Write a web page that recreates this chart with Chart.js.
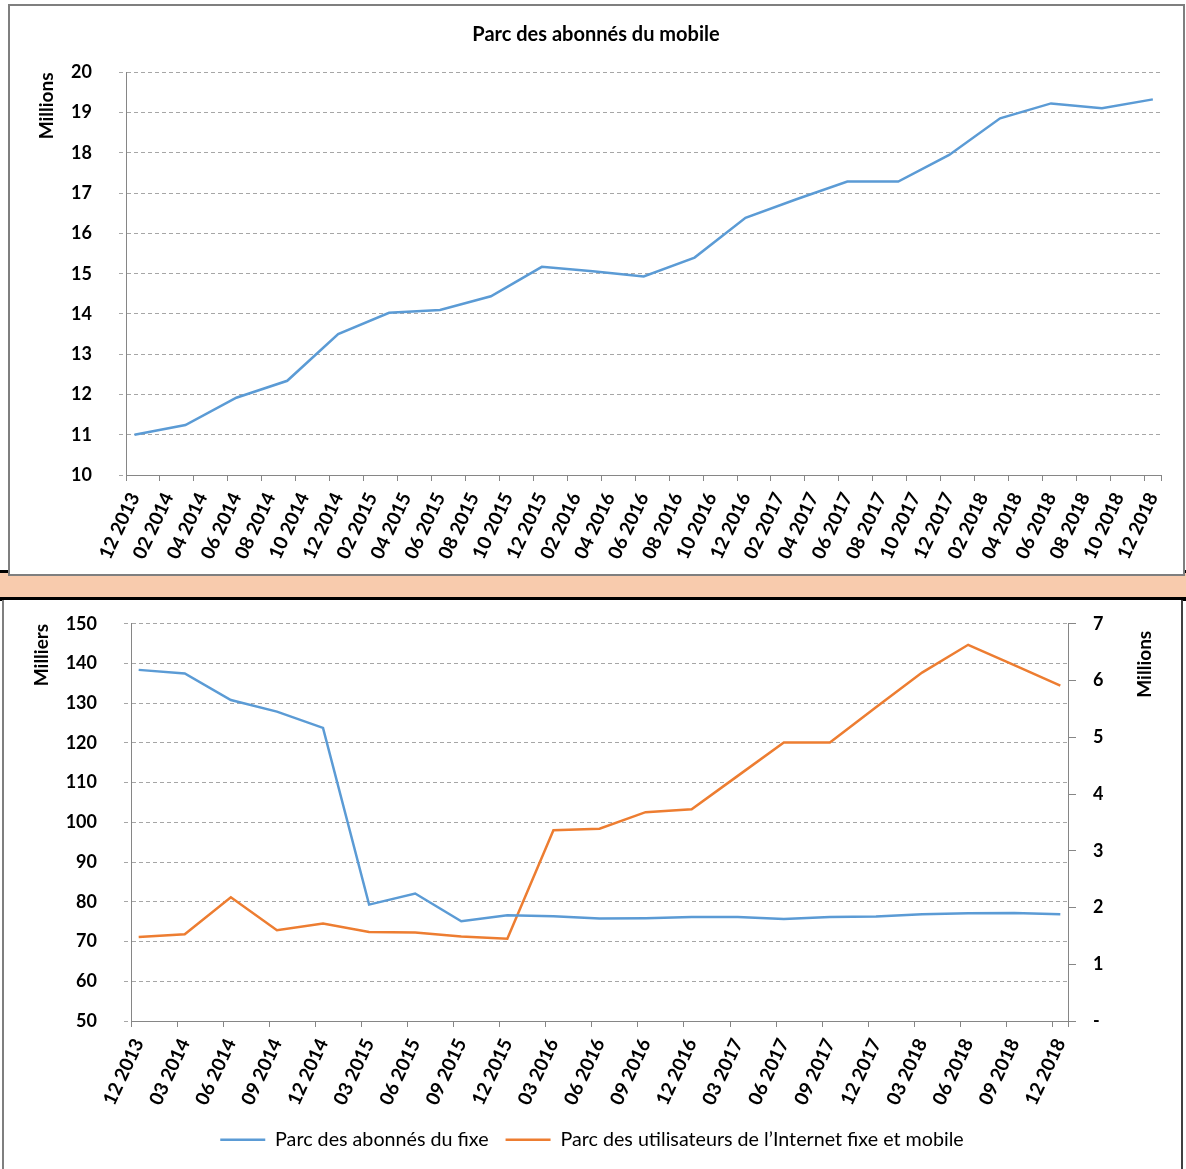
<!DOCTYPE html>
<html lang="fr">
<head>
<meta charset="UTF-8" />
<title>Parc des abonnés</title>
<script src="https://cdn.jsdelivr.net/npm/chart.js@4"></script>
<style>
  html, body { margin: 0; padding: 0; background: #fff; overflow: hidden; }
  body { width: 1186px; height: 1169px; position: relative; font-family: Lato, sans-serif; }
  .band { position: absolute; left: 0; width: 1186px; }
  #lineTop { top: 570px; height: 3px; background: #000; }
  #peach { top: 573px; height: 24px; background: #f8cbad; }
  #lineBottom { top: 597px; height: 4px; background: #000; }
  .box { position: absolute; background: #fff; box-sizing: border-box; }
  #boxTop { left: 8px; top: 4px; width: 1177px; height: 572px; border: 2px solid #7f7f7f; }
  #boxBottom { left: 2px; top: 600px; width: 1181px; height: 600px; border: 2px solid #7f7f7f; border-top: none; border-right-color: #404040; }
  canvas { position: absolute; }
</style>
</head>
<body>
<div class="band" id="lineTop"></div>
<div class="band" id="peach"></div>
<div class="band" id="lineBottom"></div>
<div class="box" id="boxTop"></div>
<div class="box" id="boxBottom"></div>
<canvas id="mobileChart" width="1180" height="568" style="left:10px;top:6px"></canvas>
<canvas id="fixeChart" width="1176" height="583" style="left:4px;top:586px"></canvas>

<script>
// quarterly data points
const quarters = ['12 2013','03 2014','06 2014','09 2014','12 2014','03 2015','06 2015','09 2015','12 2015',
  '03 2016','06 2016','09 2016','12 2016','03 2017','06 2017','09 2017','12 2017','03 2018','06 2018','09 2018','12 2018'];

// Parc des abonnés du mobile (millions)
const mobileValues = [11.0, 11.24, 11.92, 12.34, 13.5, 14.03, 14.1, 14.44, 15.17, 15.06, 14.93,
  15.4, 16.39, 16.85, 17.29, 17.29, 17.95, 18.86, 19.23, 19.11, 19.33];

// Parc des abonnés du fixe (milliers)
const fixeValues = [138.4, 137.5, 130.8, 127.9, 123.8, 79.3, 82.1, 75.1, 76.6, 76.4, 75.8,
  75.9, 76.2, 76.2, 75.7, 76.2, 76.3, 76.9, 77.1, 77.2, 76.9];

// Parc des utilisateurs de l'Internet fixe et mobile (millions)
const internetValues = [1.48, 1.53, 2.18, 1.60, 1.72, 1.57, 1.56, 1.49, 1.45, 3.36, 3.39,
  3.68, 3.73, 4.32, 4.91, 4.91, 5.53, 6.14, 6.63, 6.27, 5.91];

// axis labels
const mobileTickLabels = ['12 2013','02 2014','04 2014','06 2014','08 2014','10 2014','12 2014',
  '02 2015','04 2015','06 2015','08 2015','10 2015','12 2015','02 2016','04 2016','06 2016','08 2016',
  '10 2016','12 2016','02 2017','04 2017','06 2017','08 2017','10 2017','12 2017','02 2018','04 2018',
  '06 2018','08 2018','10 2018','12 2018'];
const fixeTickLabels = ['12 2013','03 2014','06 2014','09 2014','12 2014','03 2015','06 2015','09 2015',
  '12 2015','03 2016','06 2016','09 2016','12 2016','03 2017','06 2017','09 2017','12 2017','03 2018',
  '06 2018','09 2018','12 2018'];

const BLUE = '#5b9bd5';
const ORANGE = '#ed7d31';
const AXIS = '#868686';
const GRID = '#a6a6a6';

Chart.defaults.font.family = 'Lato';
Chart.defaults.color = '#000';

// "MM YYYY" -> months since 12 2013
function monthIndex(label) {
  const [m, y] = label.split(' ').map(Number);
  return (y - 2013) * 12 + (m - 12);
}

function points(values) {
  return values.map((v, i) => ({ x: monthIndex(quarters[i]), y: v }));
}

const tickFont = { family: 'Lato', size: 18, weight: 'bold' };
const dateFont = { family: 'Lato', size: 19, weight: 'bold' };
const titleFont = { family: 'Lato', size: 19, weight: 'bold' };

// date-like axis: one slot per month, tick marks between slots
function monthAxis(tickLabels, labelOffset, height) {
  return {
    type: 'linear',
    min: monthIndex(tickLabels[0]) - 0.5,
    max: monthIndex(tickLabels[tickLabels.length - 1]) + 0.5,
    afterBuildTicks: (scale) => {
      const ticks = tickLabels.map(l => ({ value: monthIndex(l) - 0.5 }));
      ticks.push({ value: scale.max });
      scale.ticks = ticks;
    },
    afterFit: (scale) => { scale.height = height; },
    ticks: {
      autoSkip: false,
      minRotation: 65,
      maxRotation: 65,
      labelOffset: labelOffset,
      padding: 8,
      font: dateFont,
      callback: (v, i) => tickLabels[i] || ''
    },
    grid: { drawOnChartArea: false, tickLength: 6, color: AXIS },
    border: { color: AXIS }
  };
}

function dashedY(extra) {
  return Object.assign({
    grid: { color: GRID, tickLength: 7, tickColor: GRID, tickBorderDash: [4, 3] },
    border: { color: AXIS, dash: [4, 3] }
  }, extra);
}

new Chart(document.getElementById('mobileChart'), {
  type: 'line',
  data: {
    datasets: [{
      label: 'Parc des abonnés du mobile',
      data: points(mobileValues),
      borderColor: BLUE,
      backgroundColor: BLUE,
      borderWidth: 2.5,
      pointRadius: 0,
      tension: 0
    }]
  },
  options: {
    responsive: false,
    devicePixelRatio: 1,
    animation: false,
    layout: { padding: { right: 8 } },
    plugins: {
      legend: { display: false },
      tooltip: { enabled: false },
      title: {
        display: true,
        text: 'Parc des abonnés du mobile',
        font: { family: 'Lato', size: 20, weight: 'bold' },
        color: '#000',
        padding: { top: 16.2, bottom: 26.2 }
      }
    },
    scales: {
      x: monthAxis(mobileTickLabels, 8.5, 99),
      y: dashedY({
        min: 10,
        max: 20,
        afterFit: (scale) => { scale.width = 116; },
        ticks: { font: tickFont, padding: 27, stepSize: 1 },
        title: {
          display: true,
          text: 'Millions',
          align: 'end',
          font: titleFont,
          padding: { top: 25.6, bottom: 0 }
        }
      })
    }
  }
});

// right axis title reads bottom-to-top like the left one
const rightTitle = {
  id: 'rightTitle',
  afterDraw(chart) {
    const s = chart.scales.yRight;
    const ctx = chart.ctx;
    ctx.save();
    ctx.translate(s.right - 35, chart.chartArea.top + 7);
    ctx.rotate(-Math.PI / 2);
    ctx.font = 'bold 19px Lato';
    ctx.textAlign = 'right';
    ctx.textBaseline = 'middle';
    ctx.fillStyle = '#000';
    ctx.fillText('Millions', 0, 0);
    ctx.restore();
  }
};

new Chart(document.getElementById('fixeChart'), {
  type: 'line',
  data: {
    datasets: [{
      label: 'Parc des abonnés du fixe',
      data: points(fixeValues),
      borderColor: BLUE,
      backgroundColor: BLUE,
      borderWidth: 2.5,
      pointRadius: 0,
      tension: 0,
      yAxisID: 'y'
    }, {
      label: 'Parc des utilisateurs de l\u2019Internet fixe et mobile',
      data: points(internetValues),
      borderColor: ORANGE,
      backgroundColor: ORANGE,
      borderWidth: 2.5,
      pointRadius: 0,
      tension: 0,
      yAxisID: 'yRight'
    }]
  },
  options: {
    responsive: false,
    devicePixelRatio: 1,
    animation: false,
    layout: { padding: { bottom: 9.3 } },
    plugins: {
      tooltip: { enabled: false },
      legend: {
        position: 'bottom',
        labels: {
          usePointStyle: true,
          pointStyle: 'line',
          pointStyleWidth: 45,
          padding: 17,
          color: '#000',
          font: { family: 'Lato', size: 19.7 }
        }
      }
    },
    scales: {
      x: monthAxis(fixeTickLabels, 7.7, 92),
      y: dashedY({
        position: 'left',
        min: 50,
        max: 150,
        afterFit: (scale) => { scale.width = 127; },
        ticks: { font: tickFont, padding: 27, stepSize: 10 },
        title: {
          display: true,
          text: 'Milliers',
          align: 'end',
          font: titleFont,
          padding: { top: 26.6, bottom: 0 }
        }
      }),
      yRight: {
        position: 'right',
        min: 0,
        max: 7,
        afterFit: (scale) => { scale.width = 112; },
        grid: { drawOnChartArea: false, tickLength: 8, color: AXIS },
        border: { color: AXIS },
        ticks: {
          stepSize: 1,
          padding: 17,
          font: tickFont,
          callback: (v) => v === 0 ? '-' : v
        }
      }
    }
  },
  plugins: [rightTitle]
});
</script>
</body>
</html>
